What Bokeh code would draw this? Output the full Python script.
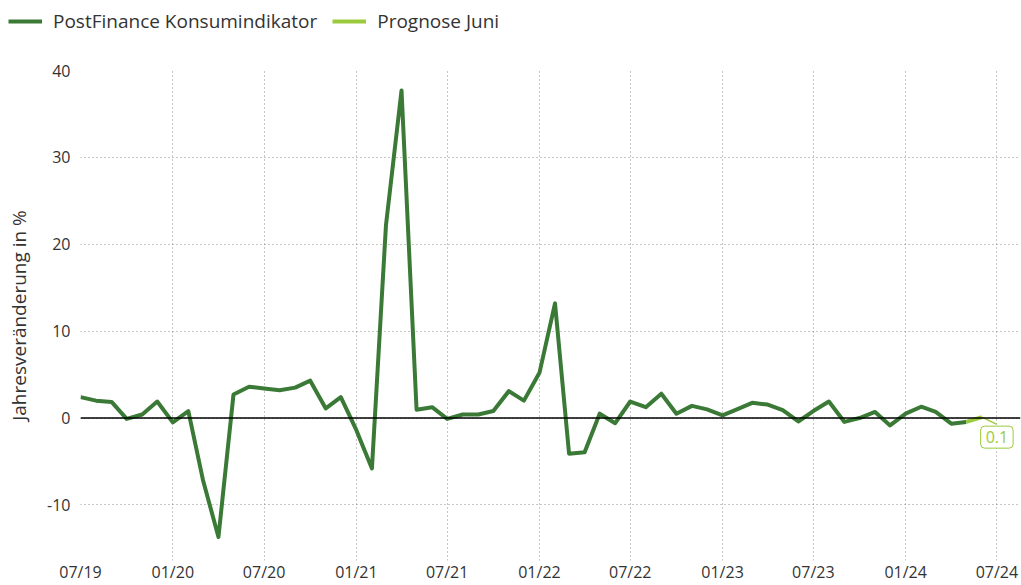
import pandas as pd
from bokeh.plotting import figure
from bokeh.layouts import column
from bokeh.models import (ColumnDataSource, FixedTicker, DatetimeTickFormatter, Span,
                          Label, Legend, LegendItem, Range1d, NumeralTickFormatter)
from bokeh.embed import file_html
from bokeh.resources import INLINE

# ---- data ----
months = pd.date_range("2019-07-01", "2024-05-01", freq="MS")
values = [2.4, 2.0, 1.85, -0.1, 0.4, 1.9,
          -0.5, 0.8, -7.1, -13.7, 2.7, 3.6, 3.4, 3.2, 3.5, 4.3, 1.1, 2.4,
          -1.4, -5.8, 22.2, 37.7, 0.95, 1.25, -0.1, 0.4, 0.4, 0.8, 3.1, 2.0,
          5.2, 13.2, -4.1, -3.95, 0.5, -0.6, 1.9, 1.25, 2.8, 0.5, 1.4, 1.0,
          0.3, 1.05, 1.75, 1.55, 0.9, -0.4, 0.8, 1.9, -0.45, 0.0, 0.7, -0.85,
          0.5, 1.3, 0.7, -0.65, -0.45]
fc_months = pd.to_datetime(["2024-05-01", "2024-06-01"])
fc_values = [-0.45, 0.1]
series_names = ["PostFinance Konsumindikator", "Prognose Juni"]
y_ticks = [-10, 0, 10, 20, 30, 40]
x_ticks = pd.date_range("2019-07-01", "2024-07-01", freq="6MS")
y_title = "Jahresveränderung in %"

DARK = "#3a7a36"
LIGHT = "#9bcb3c"
TEXT = "#333333"
FONT = "Open Sans"
LEG_H = 40

def ms(t):
    return pd.Timestamp(t).value / 1e6

# ---------- legend strip (own figure, frame spans the whole strip) ----------
lg = figure(width=1021, height=LEG_H, output_backend="svg", toolbar_location=None,
            x_axis_location=None, y_axis_location=None,
            min_border=0, min_border_left=0, min_border_right=0,
            min_border_top=0, min_border_bottom=0,
            x_range=Range1d(0, 1), y_range=Range1d(0, 1))
lg.frame_align = False
lg.outline_line_color = None
lg.xgrid.visible = False
lg.ygrid.visible = False
# legend-only renderers, kept outside the visible range
d1 = lg.line(x=[-5, -4], y=[-5, -4], line_color=DARK, line_width=4)
d2 = lg.line(x=[-5, -4], y=[-5, -4], line_color=LIGHT, line_width=4)
legend = Legend(items=[LegendItem(label=series_names[0], renderers=[d1]),
                       LegendItem(label=series_names[1], renderers=[d2])],
                orientation="horizontal", location="top_left",
                margin=8, padding=0, spacing=15, glyph_width=34, glyph_height=24,
                label_standoff=11, label_text_font=FONT, label_text_font_size="19px",
                label_text_color=TEXT, border_line_color=None,
                background_fill_alpha=0)
lg.add_layout(legend)

# ---------- main chart ----------
p = figure(width=1021, height=585 - LEG_H, x_axis_type="datetime", output_backend="svg",
           toolbar_location=None, min_border_left=80, min_border_right=1,
           min_border_top=70 - LEG_H, min_border_bottom=20,
           x_range=Range1d(ms("2019-07-01"), ms("2024-08-17")),
           y_range=Range1d(-16.4, 40))
p.frame_align = False
p.outline_line_color = None
p.background_fill_color = "white"
p.border_fill_color = "white"

src = ColumnDataSource(dict(x=months, y=values))
fsrc = ColumnDataSource(dict(x=fc_months, y=fc_values))
p.line("x", "y", source=src, line_color=DARK, line_width=4, line_join="round")
p.line("x", "y", source=fsrc, line_color=LIGHT, line_width=4, line_join="round")

p.add_layout(Span(location=0, dimension="width", line_color="black", line_width=1.5))

p.xaxis.ticker = FixedTicker(ticks=[ms(t) for t in x_ticks])
p.xaxis.formatter = DatetimeTickFormatter(days="%m/%y", months="%m/%y", years="%m/%y")
p.yaxis.ticker = FixedTicker(ticks=y_ticks)
p.yaxis.formatter = NumeralTickFormatter(format="0")
for ax in (p.xaxis[0], p.yaxis[0]):
    ax.axis_line_color = None
    ax.major_tick_line_color = None
    ax.minor_tick_line_color = None
    ax.major_tick_out = 0
    ax.major_tick_in = 0
    ax.major_label_text_font = FONT
    ax.major_label_text_font_size = "16px"
    ax.major_label_text_color = TEXT
p.xaxis.major_label_standoff = 0
p.xaxis.axis_label_standoff = 0
p.xaxis.major_label_text_line_height = 1.0
p.yaxis.major_label_standoff = 10
p.yaxis.axis_label = y_title
p.yaxis.axis_label_text_font = FONT
p.yaxis.axis_label_text_font_size = "19px"
p.yaxis.axis_label_text_font_style = "normal"
p.yaxis.axis_label_text_color = TEXT
p.yaxis.axis_label_standoff = 12

for g in (p.xgrid[0], p.ygrid[0]):
    g.grid_line_color = "#8c8c8c"
    g.grid_line_dash = "1 3"
    g.grid_line_width = 1

# forecast label
x_last = ms(fc_months[-1])
p.segment(x0=[x_last], y0=fc_values[-1:], x1=[x_last + 29 * 86400000.0],
          y1=[fc_values[-1] - 0.8], line_color=LIGHT, line_width=1.5)
p.add_layout(Label(x=x_last, y=fc_values[-1], text=f"{fc_values[-1]:.1f}",
                   x_offset=15, y_offset=-20, text_align="center", text_baseline="middle",
                   text_font=FONT, text_font_size="16px", text_color=LIGHT,
                   background_fill_color="white", border_line_color=LIGHT,
                   border_line_width=1, padding=5, border_radius=4))

layout = column(lg, p, spacing=0)
open("out.html", "w").write(file_html(layout, INLINE))
